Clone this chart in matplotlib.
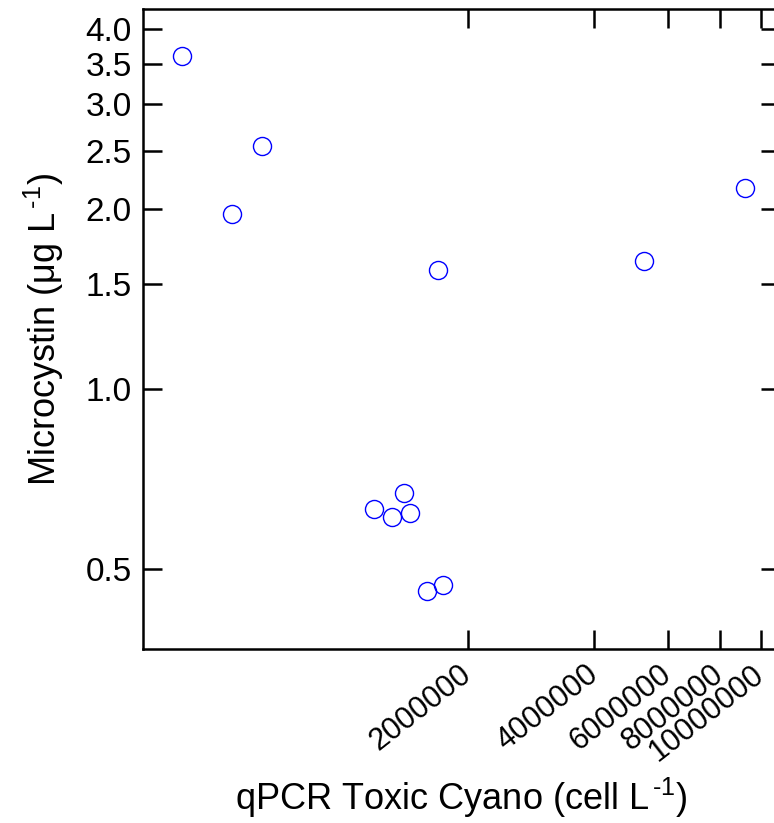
import matplotlib
matplotlib.use("Agg")
import matplotlib.pyplot as plt
from matplotlib.ticker import FixedLocator, FixedFormatter, NullLocator

plt.rcParams['font.family'] = ['Liberation Sans', 'DejaVu Sans']
plt.rcParams['mathtext.fontset'] = 'custom'
plt.rcParams['mathtext.rm'] = 'Liberation Sans'
plt.rcParams['mathtext.it'] = 'Liberation Sans:italic'

# Data (cells per litre, microcystin ug/L)
qpcr = [415000, 547000, 645000, 1696000, 5260000, 9160000,
        1404000, 1195000, 1315000, 1454000, 1594000, 1740000]
microcystin = [3.60, 1.96, 2.55, 1.58, 1.64, 2.17,
               0.670, 0.630, 0.610, 0.620, 0.460, 0.470]

xticks = [2000000, 4000000, 6000000, 8000000, 10000000]
xticklabels = ["2000000", "4000000", "6000000", "8000000", "10000000"]
yticks = [0.5, 1.0, 1.5, 2.0, 2.5, 3.0, 3.5, 4.0]
yticklabels = ["0.5", "1.0", "1.5", "2.0", "2.5", "3.0", "3.5", "4.0"]

fig = plt.figure(figsize=(7.74, 8.23), dpi=100)
ax = fig.add_axes([0.1848, 0.2114, 0.823, 0.7776])

ax.plot(qpcr, microcystin, linestyle='none', marker='o', markersize=13,
        markerfacecolor='none', markeredgecolor='#0000ff', markeredgewidth=1.0)

ax.set_xscale('log')
ax.set_yscale('log')
ax.set_xlim(335000, 1.11e7)
ax.set_ylim(0.3674, 4.321)

ax.xaxis.set_major_locator(FixedLocator(xticks))
ax.xaxis.set_major_formatter(FixedFormatter(xticklabels))
ax.xaxis.set_minor_locator(NullLocator())
ax.yaxis.set_major_locator(FixedLocator(yticks))
ax.yaxis.set_major_formatter(FixedFormatter(yticklabels))
ax.yaxis.set_minor_locator(NullLocator())

ax.tick_params(axis='both', which='major', direction='in', length=14, width=1.8,
               top=True, right=True)
ax.tick_params(axis='y', labelsize=24, pad=8)
ax.tick_params(axis='x', labelsize=22, pad=16)
for lbl in ax.get_xticklabels():
    lbl.set_rotation(38)
    lbl.set_ha('right')
    lbl.set_va('center')
    lbl.set_rotation_mode('anchor')

for s in ax.spines.values():
    s.set_linewidth(1.8)

ax.set_xlabel("qPCR Toxic Cyano (cell L$^{\\,\\text{-1}}$)", fontsize=26, labelpad=6)
ax.set_ylabel("Microcystin (\u03bcg L$^{\\,\\text{-1}}$)", fontsize=26, labelpad=14)

fig.savefig("out.png", dpi=100)
